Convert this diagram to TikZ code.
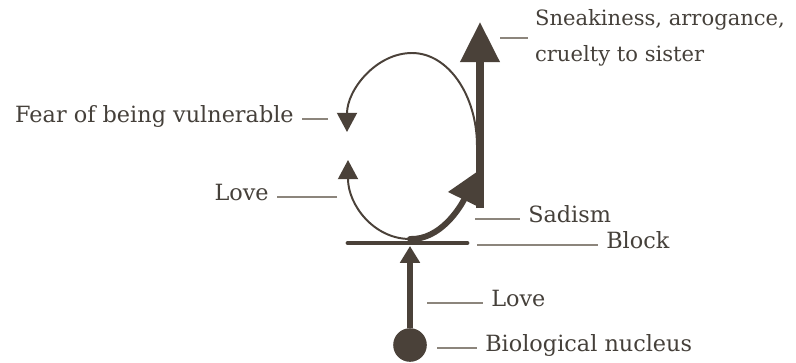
\documentclass[tikz,border=0pt]{standalone}
\usepackage{fontspec}
\setmainfont{DejaVu Serif}
\usepackage{tikz}
\usetikzlibrary{arrows.meta,positioning}
\definecolor{inkc}{HTML}{4A4139}
\definecolor{textc}{HTML}{45403A}
\definecolor{leadc}{HTML}{8C857C}

\begin{document}
\begin{tikzpicture}[x=0.025cm, y=-0.025cm,
  ink/.style={draw=inkc, line cap=round},
  thinloop/.style={ink, line width=1.4pt, -{Triangle[width=0.5cm, length=0.48cm]}},
  thickarr/.style={ink, line cap=butt, line width=5pt},
  lbl/.style={font=\fontsize{15.9}{25.6}\selectfont, text=textc, inner xsep=0.2cm, inner ysep=0pt},
  leader/.style={draw=leadc, line width=0.8pt}]
\useasboundingbox (0,0) rectangle (796,362);

% Stem: nucleus up to the block
\node[circle, fill=inkc, minimum size=0.84cm, inner sep=0pt] (nuc) at (410,345) {};
\coordinate (blockin) at (410,246);
\draw[ink, line width=3.6pt, line cap=butt, -{Triangle[width=0.48cm, length=0.42cm]}] (nuc) -- (blockin);

% Block
\coordinate (blockL) at (348,243);
\coordinate (blockR) at (467,243);
\draw[ink, line width=3.4pt] (blockL) -- (blockR);

% The loop
\coordinate (loopbot) at (410,239);
\coordinate (loopR) at (477,146);
\coordinate (looptop) at (412,53);
\coordinate (fearend) at (347,132);
\coordinate (loveend) at (348,160);
\draw[thinloop] (loopR) .. controls (477,95) and (448,53) .. (looptop)
  .. controls (376,53) and (347,90) .. (fearend);
\draw[thinloop] (loopbot) .. controls (374,239) and (348,205) .. (loveend);

% Sadism and the way out
\coordinate (sadend) at (478,171);
\coordinate (shaftbot) at (480,208);
\coordinate (shafttop) at (480,22);
\draw[ink, line width=4.2pt, -{Triangle[width=0.85cm, length=0.8cm]}] (loopbot)
  .. controls (440,240) and (460,208) .. (sadend);
\draw[thickarr, -{Triangle[width=0.95cm, length=1cm]}] (shaftbot) -- (shafttop);

% Labels
\node[lbl, font=\fontsize{15}{25.6}\selectfont, inner xsep=0.17cm, anchor=west, align=left] (sneak) at (528,38) {Sneakiness, arrogance,\\cruelty to sister};
\node[lbl, anchor=mid east] (fear) at (302,119) {Fear of being vulnerable};
\node[lbl, anchor=mid east] (loveA) at (277,197) {Love};
\node[lbl, anchor=mid west] (sadism) at (520,219) {Sadism};
\node[lbl, anchor=mid west] (block) at (598,245) {Block};
\node[lbl, anchor=mid west] (loveB) at (483,303) {Love};
\node[lbl, anchor=mid west] (bio) at (477,348) {Biological nucleus};

% Leader lines
\coordinate (sneakL) at (500,38);
\coordinate (fearL) at (328,119);
\coordinate (loveAL) at (337,197);
\coordinate (sadismL) at (475,219);
\coordinate (blockLd) at (477,245);
\coordinate (loveBL) at (427,303);
\coordinate (bioL) at (437,348);
\draw[leader] (sneakL) -- (sneakL -| sneak.west);
\draw[leader] (fearL) -- (fearL -| fear.east);
\draw[leader] (loveAL) -- (loveAL -| loveA.east);
\draw[leader] (sadismL) -- (sadismL -| sadism.west);
\draw[leader] (blockLd) -- (blockLd -| block.west);
\draw[leader] (loveBL) -- (loveBL -| loveB.west);
\draw[leader] (bioL) -- (bioL -| bio.west);
\end{tikzpicture}
\end{document}
